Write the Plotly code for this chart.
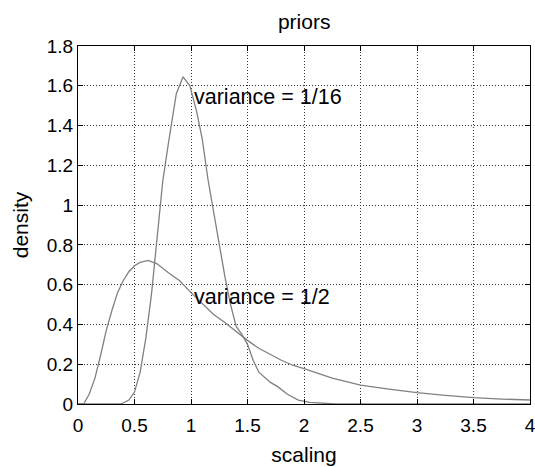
import plotly.graph_objects as go

# Prior densities over the scaling factor (mean 1), two variances
x_narrow = [0.0, 0.38, 0.45, 0.5, 0.55, 0.6, 0.65, 0.7, 0.75, 0.8, 0.83, 0.87, 0.93,
            0.99, 1.05, 1.1, 1.15, 1.2, 1.25, 1.3, 1.35, 1.4, 1.45, 1.5, 1.55, 1.6,
            1.7, 1.77, 1.85, 1.95, 2.05, 2.28, 4.0]
y_narrow = [0.0, 0.0, 0.02, 0.06, 0.16, 0.33, 0.55, 0.85, 1.12, 1.31, 1.41, 1.56, 1.645,
            1.60, 1.47, 1.33, 1.13, 0.97, 0.79, 0.64, 0.50, 0.39, 0.35, 0.30, 0.22, 0.16,
            0.11, 0.086, 0.05, 0.02, 0.008, 0.0, 0.0]

x_wide = [0.0, 0.05, 0.1, 0.15, 0.2, 0.25, 0.3, 0.35, 0.4, 0.45, 0.5, 0.55, 0.62, 0.7,
          0.8, 0.9, 1.0, 1.1, 1.2, 1.3, 1.4, 1.5, 1.6, 1.7, 1.8, 1.9, 2.0, 2.25, 2.5,
          2.75, 3.0, 3.25, 3.5, 3.75, 4.0]
y_wide = [0.0, 0.0, 0.05, 0.13, 0.245, 0.37, 0.47, 0.56, 0.62, 0.665, 0.695, 0.712, 0.722,
          0.705, 0.66, 0.62, 0.56, 0.505, 0.45, 0.41, 0.365, 0.32, 0.28, 0.25, 0.22, 0.195,
          0.178, 0.13, 0.095, 0.075, 0.057, 0.043, 0.032, 0.025, 0.02]

labels = ["variance = 1/16", "variance = 1/2"]
label_x = [1.01, 1.01]
label_y = [1.545, 0.537]

x_ticks = [0, 0.5, 1, 1.5, 2, 2.5, 3, 3.5, 4]
y_ticks = [0, 0.2, 0.4, 0.6, 0.8, 1, 1.2, 1.4, 1.6, 1.8]

FONT = "Liberation Sans, Arial, Helvetica, sans-serif"
LINE = "rgb(128,128,128)"

fig = go.Figure()
for xs, ys in [(x_narrow, y_narrow), (x_wide, y_wide)]:
    fig.add_trace(go.Scatter(x=xs, y=ys, mode="lines",
                             line=dict(color=LINE, width=1.3),
                             showlegend=False, hoverinfo="skip"))

for txt, lx, ly in zip(labels, label_x, label_y):
    fig.add_annotation(x=lx, y=ly, text=txt, showarrow=False,
                       xanchor="left", yanchor="middle",
                       font=dict(family=FONT, size=21.5, color="black"))

axis_common = dict(
    showline=True, linecolor="black", linewidth=1, mirror="allticks",
    ticks="inside", ticklen=5, tickcolor="black", tickwidth=1,
    showgrid=True, gridcolor="#333333", gridwidth=1, griddash="1px,2px",
    zeroline=False, automargin=False, ticklabeloverflow="allow",
    tickfont=dict(family=FONT, size=19, color="black"),
)

fig.update_xaxes(range=[0, 4], tickvals=x_ticks, ticktext=[f"{v:g}" for v in x_ticks],
                 ticklabelstandoff=4,
                 title=dict(text="scaling", font=dict(family=FONT, size=21, color="black"),
                            standoff=12),
                 **axis_common)
fig.update_yaxes(range=[0, 1.8], tickvals=y_ticks, ticktext=[f"{v:g}" for v in y_ticks],
                 title=dict(text="density", font=dict(family=FONT, size=21, color="black"),
                            standoff=12),
                 **axis_common)

fig.update_layout(
    width=535, height=467,
    margin=dict(l=78, r=5, t=46, b=63),
    paper_bgcolor="white", plot_bgcolor="white",
    title=dict(text="priors", x=0.5686, xanchor="center", y=0.953, yanchor="middle",
               font=dict(family=FONT, size=21, color="black")),
)

fig.write_html("out.html")
